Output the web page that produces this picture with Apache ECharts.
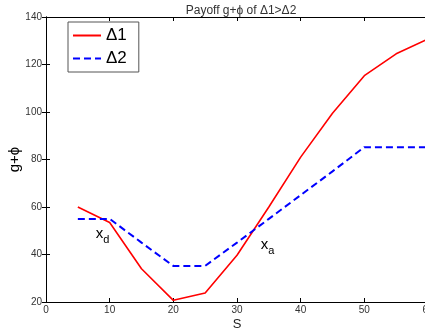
<!DOCTYPE html>
<html><head><meta charset="utf-8">
<script src="https://cdn.jsdelivr.net/npm/echarts@6/dist/echarts.min.js"></script>
<style>html,body{margin:0;padding:0;background:#fff}#c{width:425px;height:331px}</style>
</head><body><div id="c"></div>
<script>
const S = [5, 10, 15, 20, 25, 30, 35, 40, 45, 50, 55, 60];
const delta1 = [60, 53.5, 34, 20.7, 23.8, 39.7, 60, 81, 99.5, 115.3, 124.5, 130.8];
const delta2 = [55, 55, 45, 35.2, 35.2, 45, 55, 65, 75, 85.2, 85.2, 85.2];
const xTicks = [0, 10, 20, 30, 40, 50, 60];
const yTicks = [20, 40, 60, 80, 100, 120, 140];
const annotations = [
  { name: 'x', sub: 'd', at: [8.9, 48.8] },
  { name: 'x', sub: 'a', at: [34.8, 44.2] }
];
const font = 'Liberation Sans, Arial, sans-serif';
const chart = echarts.init(document.getElementById('c'), null, { renderer: 'canvas' });
const axisCommon = {
  axisLine: { show: true, lineStyle: { color: '#000', width: 1 } },
  axisTick: { show: true, inside: true, length: 4, lineStyle: { color: '#000' } },
  splitLine: { show: false }
};
chart.setOption({
  animation: false,
  backgroundColor: '#fff',
  title: {
    text: 'Payoff g+ϕ of Δ1>Δ2', left: 236, top: 0, textAlign: 'center',
    textStyle: { fontFamily: font, fontSize: 12, fontWeight: 'normal', color: '#333' }
  },
  legend: {
    orient: 'vertical', left: 68, top: 22, itemWidth: 28, itemHeight: 10, itemGap: 6,
    padding: [5, 12, 5, 4], borderColor: '#555', borderWidth: 1, backgroundColor: '#fff',
    itemStyle: { opacity: 0 },
    textStyle: { fontFamily: font, fontSize: 17, color: '#000' },
    data: [{ name: 'Δ1' }, { name: 'Δ2' }]
  },
  grid: { left: 46, right: -3, top: 17, bottom: 29, containLabel: false, outerBoundsMode: 'none' },
  xAxis: [
    Object.assign({ type: 'value', min: xTicks[0], max: xTicks[xTicks.length - 1], interval: 10,
      name: 'S', nameLocation: 'middle', nameGap: 16, nameMoveOverlap: false,
      nameTextStyle: { fontFamily: font, fontSize: 13, color: '#222' },
      axisLabel: { fontFamily: font, fontSize: 10, color: '#333', margin: 3 } }, axisCommon),
    Object.assign({ type: 'value', position: 'top', min: xTicks[0], max: xTicks[xTicks.length - 1], interval: 10,
      axisLabel: { show: false } }, axisCommon)
  ],
  yAxis: [
    Object.assign({ type: 'value', min: yTicks[0], max: yTicks[yTicks.length - 1], interval: 20,
      name: 'g+ϕ', nameLocation: 'middle', nameGap: 24, nameRotate: 90, nameMoveOverlap: false,
      nameTextStyle: { fontFamily: font, fontSize: 15, color: '#000' },
      axisLabel: { fontFamily: font, fontSize: 10, color: '#333', margin: 4 } }, axisCommon),
    Object.assign({ type: 'value', position: 'right', min: yTicks[0], max: yTicks[yTicks.length - 1], interval: 20,
      axisLabel: { show: false } }, axisCommon)
  ],
  series: [
    {
      name: 'Δ1', type: 'line', data: S.map((s, i) => [s, delta1[i]]),
      showSymbol: false, symbol: 'none', lineStyle: { color: '#ff0000', width: 1.6 },
      itemStyle: { color: '#ff0000' },
      markPoint: {
        symbol: 'circle', symbolSize: 0, silent: true,
        data: annotations.map(a => ({ coord: a.at, value: a.sub,
          label: { show: true, position: 'inside', formatter: '{x|' + a.name + '}{s|' + a.sub + '}',
            rich: { x: { fontFamily: font, fontSize: 15, color: '#000' },
                    s: { fontFamily: font, fontSize: 11, color: '#000', padding: [12, 0, 0, 0] } } } }))
      }
    },
    {
      name: 'Δ2', type: 'line', data: S.map((s, i) => [s, delta2[i]]),
      showSymbol: false, symbol: 'none', lineStyle: { color: '#0000ff', width: 2, type: [7, 4] },
      itemStyle: { color: '#0000ff' }
    }
  ]
});
</script></body></html>
